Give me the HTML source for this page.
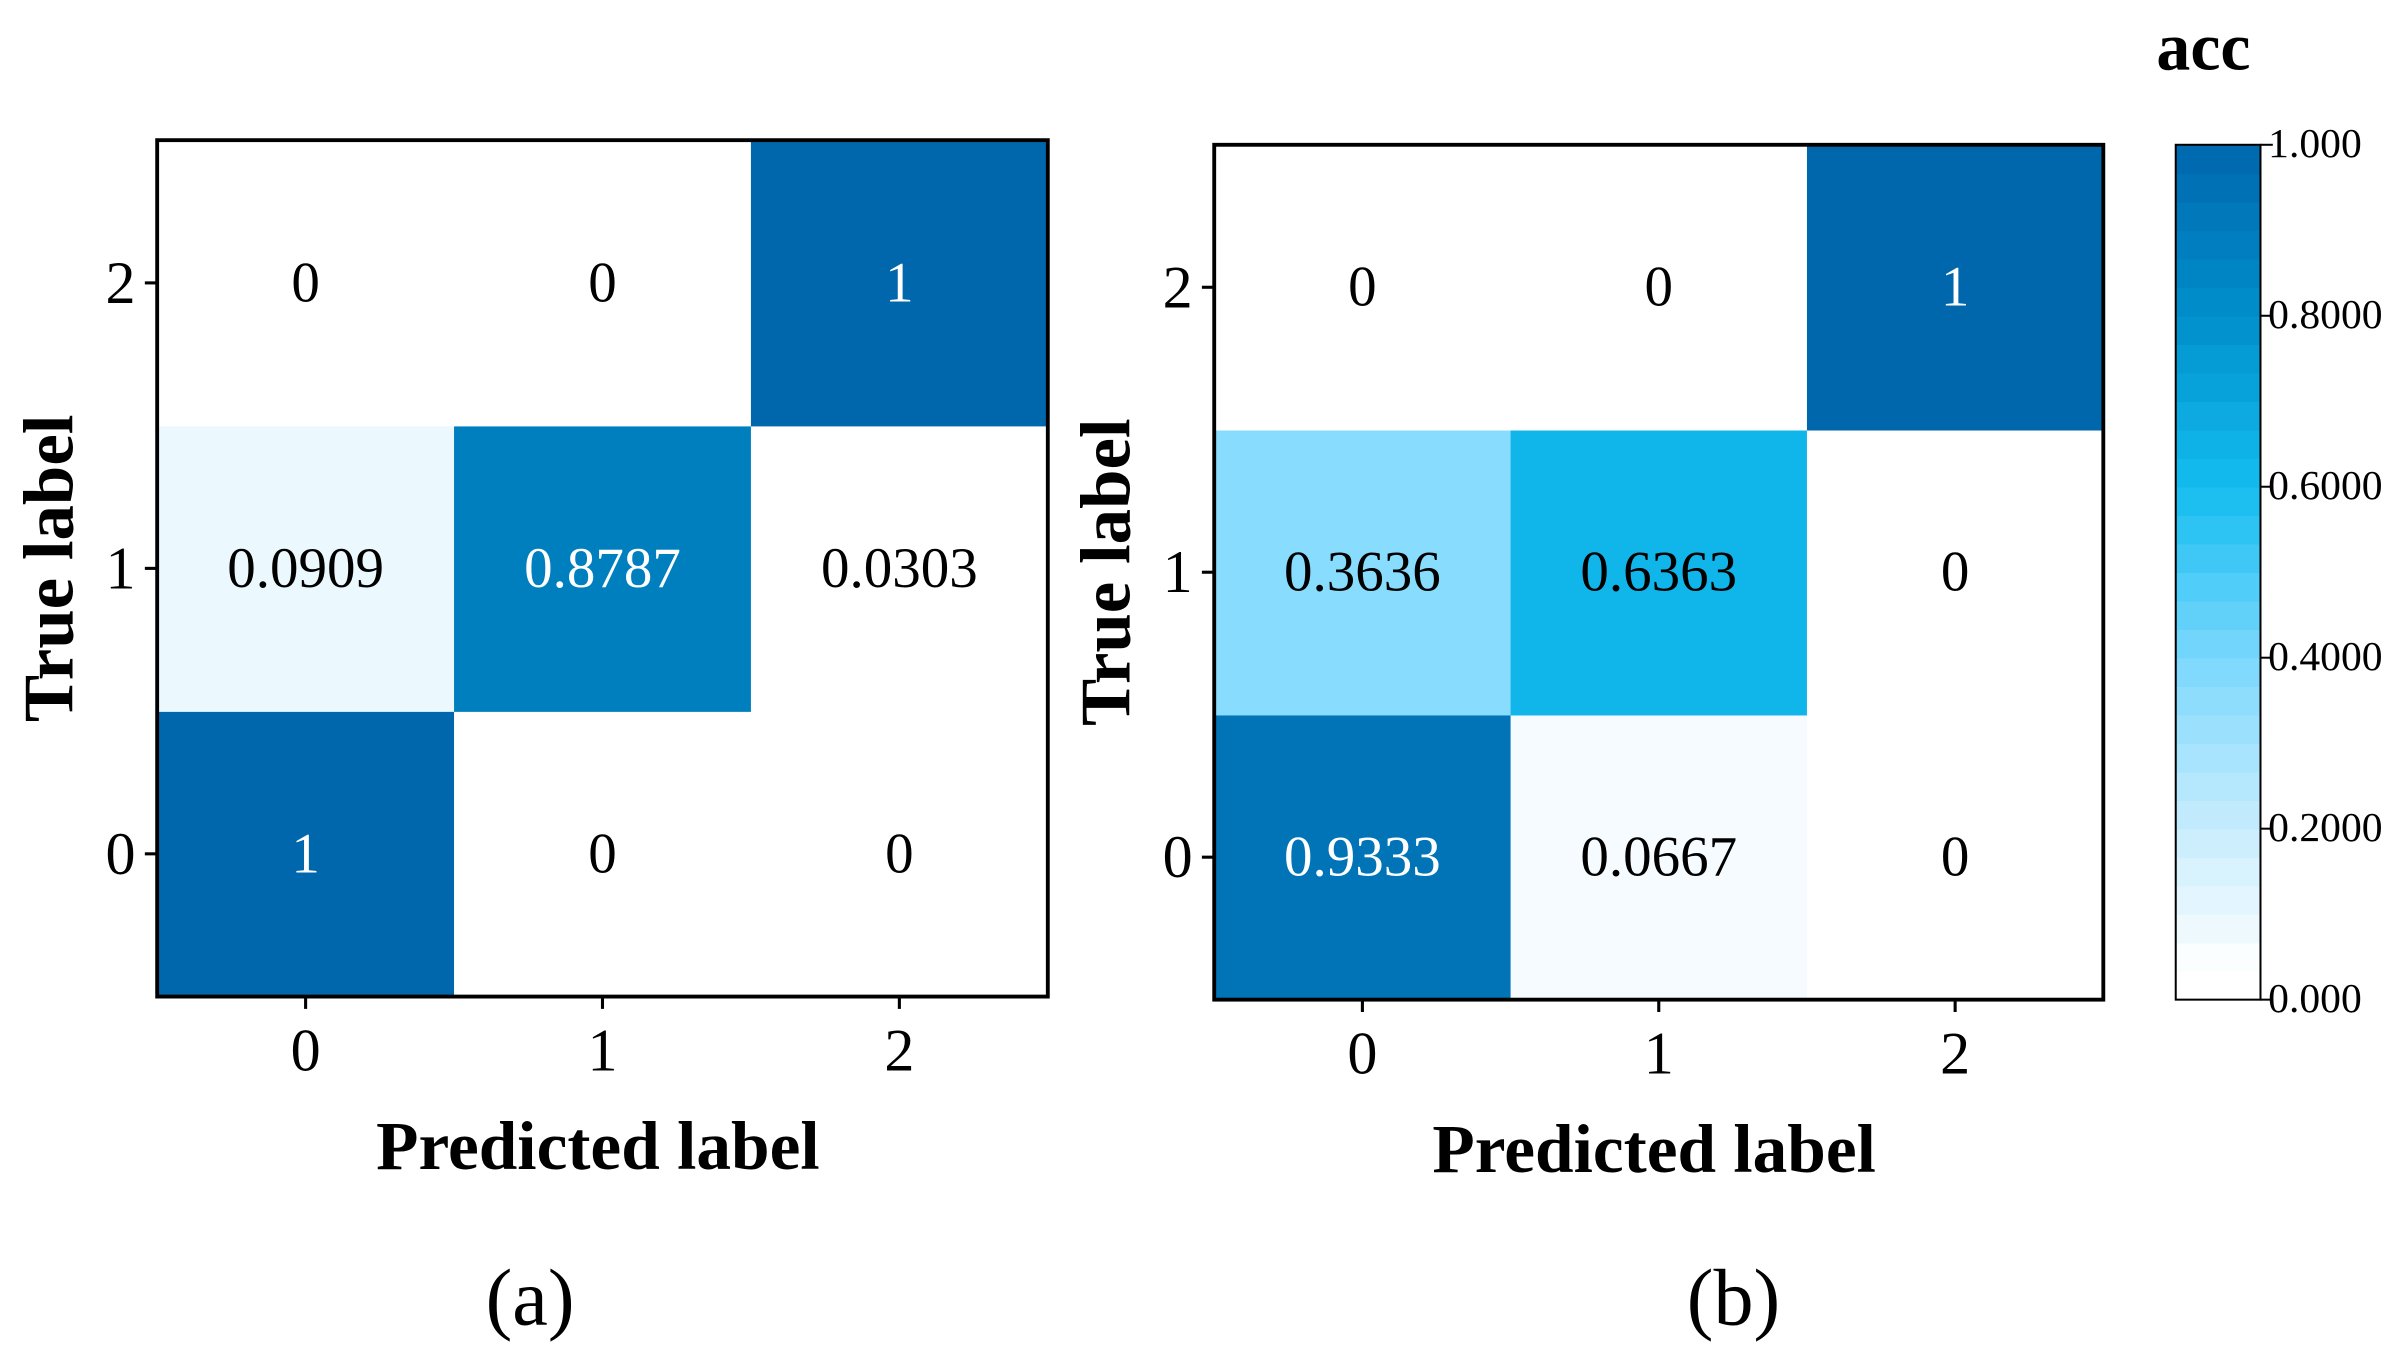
<!DOCTYPE html>
<html><head><meta charset="utf-8"><style>
html,body{margin:0;padding:0;background:#fff;}
svg{display:block;font-family:"Liberation Serif",serif;}
</style></head><body>
<svg id="fig" width="2393" height="1357" viewBox="0 0 1553 881" preserveAspectRatio="none" xmlns="http://www.w3.org/2000/svg"></svg>
<script>
const classes = ["0","1","2"];
// rows: true label 0,1,2 ; cols: predicted 0,1,2
const matrixA = [[1,0,0],[0.0909,0.8787,0.0303],[0,0,1]];
const labelsA = [["1","0","0"],["0.0909","0.8787","0.0303"],["0","0","1"]];
const matrixB = [[0.9333,0.0667,0],[0.3636,0.6363,0],[0,0,1]];
const labelsB = [["0.9333","0.0667","0"],["0.3636","0.6363","0"],["0","0","1"]];
const cbTicks = [0,0.2,0.4,0.6,0.8,1.0];
const cbTickLabels = ["0.000","0.2000","0.4000","0.6000","0.8000","1.000"];

const NS="http://www.w3.org/2000/svg";
const svg=document.getElementById('fig');
const stops=[[0,[255,255,255]],[0.04,[255,255,255]],[0.1,[232,247,254]],[0.2,[200,236,253]],[0.4,[122,216,253]],[0.6,[20,189,240]],[0.8,[0,143,203]],[1,[0,103,173]]];
function cmap(v){
  for(let i=1;i<stops.length;i++){
    if(v<=stops[i][0]){const a=stops[i-1],b=stops[i];const t=(v-a[0])/(b[0]-a[0]);
      const c=a[1].map((x,k)=>Math.round(x+(b[1][k]-x)*t));return `rgb(${c.join(',')})`;}
  }
  return 'rgb(0,103,173)';
}
function el(tag,attrs,parent){const e=document.createElementNS(NS,tag);for(const k in attrs)e.setAttribute(k,attrs[k]);(parent||svg).appendChild(e);return e;}
function txt(s,attrs,parent){const e=el('text',attrs,parent);e.textContent=s;return e;}

function panel(name,m,labs,x0,y0,x1,y1,letter,letterX){
  const g=el('g',{});
  
  
  const n=classes.length,cw=(x1-x0)/n,ch=(y1-y0)/n;
  const xs=i=>x0+cw*(i+0.5), ys=j=>y1-ch*(j+0.5);
  for(let r=0;r<n;r++)for(let c=0;c<n;c++){
    const rect=el('rect',{x:xs(c)-cw/2,y:ys(r)-ch/2,width:cw+0.5,height:ch+0.5,fill:cmap(m[r][c])},g);
    
    
    const t=txt(labs[r][c],{x:xs(c),y:ys(r)+12,'text-anchor':'middle','font-size':37,fill:m[r][c]>0.7?'#fff':'#000'},g);
    
    
  }
  el('rect',{x:x0,y:y0,width:x1-x0,height:y1-y0,fill:'none',stroke:'#000','stroke-width':2.5},g);
  for(let i=0;i<n;i++){
    el('line',{x1:xs(i),x2:xs(i),y1:y1,y2:y1+8,stroke:'#000','stroke-width':2},g);
    const tx=txt(classes[i],{x:xs(i),y:y1+48,'text-anchor':'middle','font-size':39},g);
    
    
    el('line',{x1:x0-8,x2:x0,y1:ys(i),y2:ys(i),stroke:'#000','stroke-width':2},g);
    const ty=txt(classes[i],{x:x0-14,y:ys(i)+13,'text-anchor':'end','font-size':39},g);
    
    
  }
  const xl=txt('Predicted label',{x:(x0+x1)/2-3,y:y1+112,'text-anchor':'middle','font-size':45,'font-weight':'bold'},g);
  
  
  const yc=(y0+y1)/2;
  const yl=txt('True label',{x:0,y:0,'text-anchor':'middle','font-size':46,'font-weight':'bold',transform:`translate(${x0-55},${yc}) rotate(-90)`},g);
  
  
  const lt=txt(letter,{x:letterX,y:860,'text-anchor':'middle','font-size':52},g);
  
  
}
panel('confusion-matrix-a',matrixA,labelsA,102,91,680,647,'(a)',344);
panel('confusion-matrix-b',matrixB,labelsB,788,94,1365,649,'(b)',1125);

// colorbar
const cb=el('g',{});


const cx0=1412,cx1=1467,cy0=94,cy1=649,steps=30;
const cbY=v=>cy1-(cy1-cy0)*v;
for(let i=0;i<steps;i++){
  const v0=i/steps,v1=(i+1)/steps;
  el('rect',{x:cx0,y:cbY(v1),width:cx1-cx0,height:cbY(v0)-cbY(v1)+0.5,fill:cmap((v0+v1)/2)},cb);
}
el('rect',{x:cx0,y:cy0,width:cx1-cx0,height:cy1-cy0,fill:'none',stroke:'#000','stroke-width':1.3},cb);
cbTicks.forEach((v,i)=>{
  el('line',{x1:cx1,x2:cx1+8,y1:cbY(v),y2:cbY(v),stroke:'#000','stroke-width':1.3},cb);
  const t=txt(cbTickLabels[i],{x:cx1+5,y:cbY(v)+8,'font-size':27},cb);
  
  
});
const acc=txt('acc',{x:1430,y:45,'text-anchor':'middle','font-size':44,'font-weight':'bold'},cb);


</script>
</body></html>
